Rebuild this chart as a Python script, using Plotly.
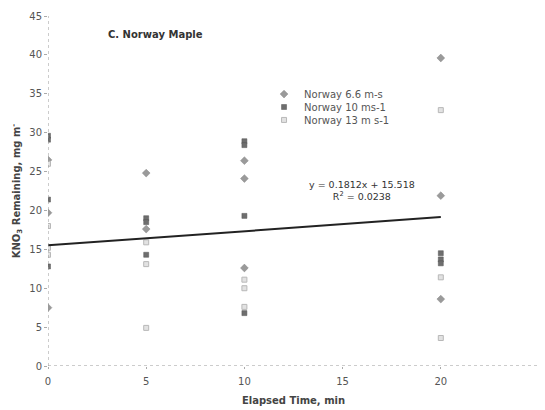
import plotly.graph_objects as go

# Data
time_66 = [0, 0, 0, 5, 5, 10, 10, 10, 20, 20, 20]
kno3_66 = [26.5, 19.7, 7.5, 24.8, 17.6, 26.4, 24.1, 12.6, 39.6, 21.9, 8.6]

time_10 = [0, 0, 0, 0, 5, 5, 5, 10, 10, 10, 10, 20, 20, 20]
kno3_10 = [29.6, 29.1, 21.4, 12.8, 19.0, 18.5, 14.3, 28.9, 28.4, 19.3, 6.8, 14.5, 13.7, 13.2]

time_13 = [0, 0, 0, 0, 5, 5, 5, 10, 10, 10, 20, 20, 20]
kno3_13 = [26.0, 18.0, 15.2, 14.3, 15.9, 13.1, 4.9, 11.1, 10.0, 7.6, 32.9, 11.4, 3.6]

trend_slope = 0.1812
trend_intercept = 15.518
trend_r2 = 0.0238
trend_x = [0, 20]

x_ticks = [0, 5, 10, 15, 20, 25]
y_ticks = [0, 5, 10, 15, 20, 25, 30, 35, 40, 45]

font_family = "DejaVu Sans, Verdana, sans-serif"

fig = go.Figure()
fig.add_trace(go.Scatter(
    x=time_66, y=kno3_66, mode="markers", name="Norway 6.6 m-s", legend="legend",
    marker=dict(symbol="diamond", size=6, color="#9a9a9a", line=dict(color="#888", width=0.5)),
))
fig.add_trace(go.Scatter(
    x=time_10, y=kno3_10, mode="markers", name="Norway 10 ms-1", legend="legend2",
    marker=dict(symbol="square", size=5, color="#6e6e6e", line=dict(color="#555", width=0.5)),
))
fig.add_trace(go.Scatter(
    x=time_13, y=kno3_13, mode="markers", name="Norway 13 m s-1", legend="legend3",
    marker=dict(symbol="square", size=5, color="#e2e2e2", line=dict(color="#b8b8b8", width=1)),
))
fig.add_trace(go.Scatter(
    x=trend_x, y=[trend_slope * t + trend_intercept for t in trend_x],
    mode="lines", showlegend=False, line=dict(color="#222", width=2),
))

leg_common = dict(xanchor="left", yanchor="middle", bgcolor="rgba(0,0,0,0)",
                  font=dict(size=10, color="#555"), itemwidth=30)

fig.update_layout(
    width=537, height=402,
    margin=dict(l=40, r=6, t=8, b=44),
    paper_bgcolor="white", plot_bgcolor="white",
    font=dict(family=font_family, size=10, color="#555"),
    legend=dict(x=0.44, y=0.777, **leg_common),
    legend2=dict(x=0.44, y=0.740, **leg_common),
    legend3=dict(x=0.44, y=0.703, **leg_common),
    xaxis=dict(range=[0, 25], tickvals=x_ticks, showgrid=False, zeroline=False,
               showline=False, ticks="outside", ticklen=2, tickcolor="#aaa",
               ticklabelstandoff=4,
               automargin=False, tickfont=dict(size=10, color="#555"),
               title=dict(text="<b>Elapsed Time, min</b>", font=dict(size=10, color="#444"), standoff=10)),
    yaxis=dict(range=[0, 45], tickvals=y_ticks, showgrid=False, zeroline=False,
               showline=False, ticks="outside", ticklen=3, tickcolor="#aaa",
               automargin=False, tickfont=dict(size=10, color="#555"),
               title=dict(text="<b>KNO<sub>3</sub> Remaining, mg m<sup>-</sup></b>",
                          font=dict(size=10, color="#444"), standoff=6)),
    shapes=[
        dict(type="line", xref="x", yref="y", x0=0, x1=25, y0=0, y1=0,
             line=dict(color="#999", width=1, dash="dot")),
        dict(type="line", xref="x", yref="y", x0=0, x1=0, y0=0, y1=45,
             line=dict(color="#999", width=1, dash="dot")),
    ],
    annotations=[
        dict(text="<b>C. Norway Maple</b>", xref="paper", yref="paper", x=0.118, y=0.946,
             xanchor="left", yanchor="middle", showarrow=False,
             font=dict(size=10, color="#333")),
        dict(text=f"y = {trend_slope}x + {trend_intercept}<br>R<sup>2</sup> = {trend_r2}",
             xref="x", yref="y", x=16.0, y=22.6, xanchor="center", yanchor="middle",
             showarrow=False, align="center", font=dict(size=9.5, color="#333")),
    ],
)

fig.write_html("out.html")
